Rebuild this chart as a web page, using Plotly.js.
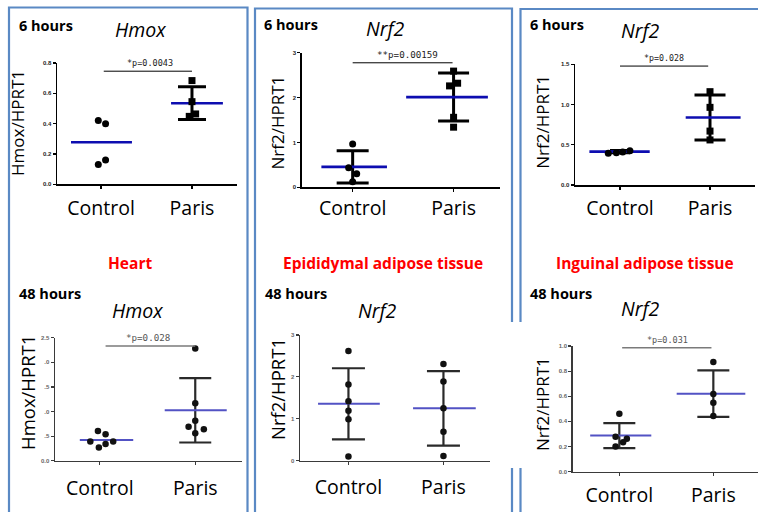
<!DOCTYPE html>
<html><head><meta charset="utf-8">
<script src="https://cdn.plot.ly/plotly-3.0.1.min.js"></script>
<style>html,body{margin:0;padding:0;background:#fff;}#chart{width:758px;height:512px;}</style>
</head><body><div id="chart"></div>
<script>
// ---------------- DATA ----------------
const categories = ['Control', 'Paris'];
const panelTitles = ['Hmox', 'Nrf2', 'Nrf2', 'Hmox', 'Nrf2', 'Nrf2'];
const yTitles = ['Hmox/HPRT1', 'Nrf2/HPRT1', 'Nrf2/HPRT1', 'Hmox/HPRT1', 'Nrf2/HPRT1', 'Nrf2/HPRT1'];
const timeLabels = ['6 hours', '6 hours', '6 hours', '48 hours', '48 hours', '48 hours'];
const tissueLabels = ['Heart', 'Epididymal adipose tissue', 'Inguinal adipose tissue'];
const pLabels = ['*p=0.0043', '**p=0.00159', '*p=0.028', '*p=0.028', '', '*p=0.031'];

// 6 h, heart, Hmox
const controlA = [0.42, 0.40, 0.13, 0.16];
const parisA = [0.684, 0.545, 0.448, 0.464];
const meanA = [0.277, 0.535];
const sdA = [null, 0.108];
// 6 h, epididymal, Nrf2
const controlB = [0.964, 0.437, 0.30, 0.125];
const parisB = [2.59, 2.26, 2.32, 1.56, 1.34];
const meanB = [0.456, 2.01];
const sdB = [0.36, 0.535];
// 6 h, inguinal, Nrf2
const controlC = [0.394, 0.40, 0.41, 0.426];
const parisC = [1.16, 0.965, 0.67, 0.56];
const meanC = [0.415, 0.838];
const sdC = [0.014, 0.28];
// 48 h, heart, Hmox
const controlD = [0.605, 0.54, 0.39, 0.39, 0.34, 0.27];
const parisD = [2.28, 1.17, 0.81, 0.69, 0.64, 0.56];
const meanD = [0.423, 1.025];
const sdD = [null, 0.655];
// 48 h, epididymal, Nrf2
const controlE = [2.62, 1.82, 1.42, 1.19, 0.99, 0.10];
const parisE = [2.31, 1.89, 1.25, 0.69, 0.11];
const meanE = [1.357, 1.25];
const sdE = [0.85, 0.89];
// 48 h, inguinal, Nrf2
const controlF = [0.46, 0.277, 0.26, 0.233, 0.20];
const parisF = [0.872, 0.617, 0.548, 0.442];
const meanF = [0.286, 0.62];
const sdF = [0.10, 0.185];

// y tick values / labels
const yTickValsA = [0, 0.2, 0.4, 0.6, 0.8];
const yTickTextA = ['0.0', '0.2', '0.4', '0.6', '0.8'];
const yTickValsB = [0, 1, 2, 3];
const yTickTextB = ['0', '1', '2', '3'];
const yTickValsC = [0, 0.5, 1.0, 1.5];
const yTickTextC = ['0.0', '0.5', '1.0', '1.5'];
const yTickValsD = [0, 0.5, 1.0, 1.5, 2.0, 2.5];
const yTickTextD = ['0.0', '.5', '.0', '.5', '.0', '2.5'];
const yTickValsE = [0, 1, 2, 3];
const yTickTextE = ['0', '1', '2', '3'];
const yTickValsF = [0, 0.2, 0.4, 0.6, 0.8, 1.0];
const yTickTextF = ['0.0', '0.2', '0.4', '0.6', '0.8', '1.0'];

// ---------------- STYLE / POSITIONS ----------------
const W = 758, H = 512;
const px = v => v / W;
const py = v => 1 - v / H;

const panels = [
  {ctrl: controlA, paris: parisA, mean: meanA, sd: sdA, tv: yTickValsA, tt: yTickTextA},
  {ctrl: controlB, paris: parisB, mean: meanB, sd: sdB, tv: yTickValsB, tt: yTickTextB},
  {ctrl: controlC, paris: parisC, mean: meanC, sd: sdC, tv: yTickValsC, tt: yTickTextC},
  {ctrl: controlD, paris: parisD, mean: meanD, sd: sdD, tv: yTickValsD, tt: yTickTextD},
  {ctrl: controlE, paris: parisE, mean: meanE, sd: sdE, tv: yTickValsE, tt: yTickTextE},
  {ctrl: controlF, paris: parisF, mean: meanF, sd: sdF, tv: yTickValsF, tt: yTickTextF}
];

const styles = [
  {xd: [57, 237], yd: [63, 184.3], xr: [-0.484, 1.495], yr: [0, 0.8], late: false,
   cJit: [-0.03, 0.05, -0.03, 0.05], pJit: [0, 0, -0.03, 0.04], pSym: 'square',
   ext: [[-0.33, 0.34], [-0.23, 0.34]], cap: [14, 14], stand: 3,
   yt: [17, 123, 17], tl: [140, 29], tm: [17, 25], pf: 8.5, br: {y: 0.746, x: [0.03, 1.0], tx: 0.54}},
  {xd: [301.7, 500], yd: [52.7, 187.3], xr: [-0.505, 1.46], yr: [0, 3], late: false,
   cJit: [0, -0.04, 0.04, 0], pJit: [0, -0.04, 0.04, 0, 0], pSym: 'square',
   ext: [[-0.31, 0.34], [-0.47, 0.34]], cap: [16, 15.5], stand: 0,
   yt: [277, 122.5, 17], tl: [385, 28], tm: [262, 24], pf: 9.2, br: {y: 2.775, x: [0, 0.99], tx: 0.54}},
  {xd: [575, 755], yd: [64.3, 185], xr: [-0.5, 1.5], yr: [0, 1.5], late: false,
   cJit: [-0.13, -0.04, 0.03, 0.11], pJit: [0, 0, 0, 0], pSym: 'square',
   ext: [[-0.34, 0.33], [-0.27, 0.34]], cap: [10, 15.5], stand: 2,
   yt: [543, 121.7, 17], tl: [640, 30], tm: [528, 24], pf: 8.3, br: {y: 1.478, x: [0, 0.98], tx: 0.49}},
  {xd: [55, 242], yd: [337.7, 460.7], xr: [-0.47, 1.49], yr: [0, 2.5], late: true,
   cJit: [-0.02, 0.06, -0.1, 0.14, 0.06, -0.01], pJit: [0, 0, 0, -0.07, 0.09, 0], pSym: 'circle',
   ext: [[-0.21, 0.35], [-0.32, 0.33]], cap: [16, 16], stand: 6,
   yt: [27, 393, 18.5], tl: [137, 310], tm: [17, 293], pf: 9.2, br: {y: 2.33, x: [0.06, 1.0], tx: 0.5}},
  {xd: [300, 490], yd: [335, 460.7], xr: [-0.51, 1.49], yr: [0, 3], late: true,
   cJit: [0, 0, 0, 0, 0, 0], pJit: [0, 0, 0, 0, 0], pSym: 'circle',
   ext: [[-0.32, 0.33], [-0.32, 0.34]], cap: [16.5, 16.5], stand: 5,
   yt: [277, 389, 18.5], tl: [377, 310], tm: [263, 293], pf: 9, br: null},
  {xd: [572.7, 758], yd: [346, 471.5], xr: [-0.496, 1.475], yr: [0, 1.0], late: true,
   cJit: [0, -0.04, 0.08, 0.04, -0.04], pJit: [0, 0, 0, 0], pSym: 'circle',
   ext: [[-0.31, 0.34], [-0.39, 0.34]], cap: [16, 16], stand: 3,
   yt: [542, 404, 17], tl: [640, 308], tm: [528, 293], pf: 8.5, br: {y: 0.986, x: [0.03, 0.98], tx: 0.51}}
];

const MAIN_FONT = 'Open Sans, Liberation Sans, sans-serif';
const traces = [];
const layout = {
  width: W, height: H, margin: {l: 0, r: 0, t: 0, b: 0},
  paper_bgcolor: '#ffffff', plot_bgcolor: 'rgba(0,0,0,0)',
  showlegend: false, annotations: [], shapes: []
};

panels.forEach((p, i) => {
  const s = styles[i];
  const n = i === 0 ? '' : String(i + 1);
  const xa = 'x' + n, ya = 'y' + n;
  const axCol = s.late ? '#3a3a3a' : '#000000';
  const errCol = s.late ? '#2a2a2a' : '#000000';
  const blue = s.late ? '#5252c4' : '#0d0db0';
  const dotCol = s.late ? '#111111' : '#000000';

  // error bars (mean +/- SD)
  [0, 1].forEach(g => {
    if (p.sd[g] !== null) {
      traces.push({x: [g], y: [p.mean[g]], xaxis: xa, yaxis: ya, type: 'scatter', mode: 'markers',
        marker: {size: 1, opacity: 0}, hoverinfo: 'skip', cliponaxis: false,
        error_y: {type: 'data', array: [p.sd[g]], visible: true, color: errCol,
                  thickness: s.late ? 2.2 : 3, width: s.cap[g]}});
    }
  });
  // mean lines
  [0, 1].forEach(g => {
    traces.push({x: [g + s.ext[g][0], g + s.ext[g][1]], y: [p.mean[g], p.mean[g]],
      xaxis: xa, yaxis: ya, type: 'scatter', mode: 'lines', hoverinfo: 'skip', cliponaxis: false,
      line: {color: blue, width: s.late ? 2 : 2.6}});
  });
  // individual points
  traces.push({x: p.ctrl.map((v, k) => 0 + s.cJit[k]), y: p.ctrl, xaxis: xa, yaxis: ya,
    type: 'scatter', mode: 'markers', cliponaxis: false,
    marker: {symbol: 'circle', size: s.late ? 6.5 : 7, color: dotCol}});
  traces.push({x: p.paris.map((v, k) => 1 + s.pJit[k]), y: p.paris, xaxis: xa, yaxis: ya,
    type: 'scatter', mode: 'markers', cliponaxis: false,
    marker: {symbol: s.pSym, size: s.late ? 6.5 : 7, color: dotCol}});

  layout['xaxis' + n] = {
    domain: [px(s.xd[0]), px(s.xd[1])], range: s.xr, anchor: ya,
    showgrid: false, zeroline: false, showline: true, linecolor: axCol, linewidth: 1.5,
    tickvals: [0, 1], ticktext: categories, ticks: 'outside', ticklen: 3, tickwidth: 1.2, tickcolor: axCol,
    ticklabelstandoff: s.stand,
    tickfont: {family: MAIN_FONT, size: 19.5, color: '#000000'}, fixedrange: true
  };
  layout['yaxis' + n] = {
    domain: [py(s.yd[1]), py(s.yd[0])], range: s.yr, anchor: xa,
    showgrid: false, zeroline: false, showline: true, linecolor: axCol, linewidth: 1.5,
    tickvals: p.tv, ticktext: p.tt, ticks: 'outside', ticklen: 3, tickwidth: 1.2, tickcolor: axCol,
    tickfont: {family: 'Liberation Sans, Arial, sans-serif', size: 6, weight: 'bold', color: s.late ? '#666666' : '#222222'},
    fixedrange: true
  };

  // y title
  layout.annotations.push({xref: 'paper', yref: 'paper', x: px(s.yt[0]), y: py(s.yt[1]),
    xanchor: 'center', yanchor: 'middle', textangle: -90, showarrow: false, text: yTitles[i],
    font: {family: MAIN_FONT, size: s.yt[2], color: '#000000'}});
  // panel title (gene)
  layout.annotations.push({xref: 'paper', yref: 'paper', x: px(s.tl[0]), y: py(s.tl[1]),
    xanchor: 'center', yanchor: 'middle', showarrow: false, text: '<i>' + panelTitles[i] + '</i>',
    font: {family: MAIN_FONT, size: 19.5, color: '#000000'}});
  // time label
  layout.annotations.push({xref: 'paper', yref: 'paper', x: px(s.tm[0]), y: py(s.tm[1]),
    xanchor: 'left', yanchor: 'middle', showarrow: false, text: '<b>' + timeLabels[i] + '</b>',
    font: {family: MAIN_FONT, size: 14.5, color: '#000000'}});
  // significance bracket
  if (s.br && pLabels[i]) {
    layout.shapes.push({type: 'line', xref: xa, yref: ya, x0: s.br.x[0], x1: s.br.x[1],
      y0: s.br.y, y1: s.br.y, line: {color: s.late ? '#7a7a7a' : '#000000', width: s.late ? 1.6 : 1}});
    layout.annotations.push({xref: xa, yref: ya, x: s.br.tx, y: s.br.y, yshift: 1,
      xanchor: 'center', yanchor: 'bottom', showarrow: false, text: pLabels[i],
      font: {family: 'DejaVu Sans Mono, monospace', size: s.pf, color: s.late ? '#555555' : '#222222'}});
  }
});

// tissue labels
const tissueX = [130, 383, 645];
tissueLabels.forEach((t, k) => {
  layout.annotations.push({xref: 'paper', yref: 'paper', x: px(tissueX[k]), y: py(263),
    xanchor: 'center', yanchor: 'middle', showarrow: false, text: '<b>' + t + '</b>',
    font: {family: MAIN_FONT, size: 15.5, color: '#ff0000'}});
});

// blue panel frames
const frameCol = '#5a89c4';
const frames = [[9, 7.5, 247.5, 520], [255, 8.5, 512, 520], [520.5, 9, 775, 520]];
frames.forEach(f => {
  layout.shapes.push({type: 'rect', xref: 'paper', yref: 'paper', x0: px(f[0]), x1: px(f[2]),
    y0: py(f[3]), y1: py(f[1]), line: {color: frameCol, width: 2.2}, fillcolor: 'rgba(0,0,0,0)', layer: 'below'});
});
// white patch of the pasted 48 h inguinal figure hiding part of the frames
layout.shapes.push({type: 'rect', xref: 'paper', yref: 'paper', x0: px(506), x1: px(527),
  y0: py(468), y1: py(322), line: {width: 0}, fillcolor: '#ffffff', layer: 'below'});

Plotly.newPlot('chart', traces, layout, {displayModeBar: false, staticPlot: true});
</script>
</body></html>
